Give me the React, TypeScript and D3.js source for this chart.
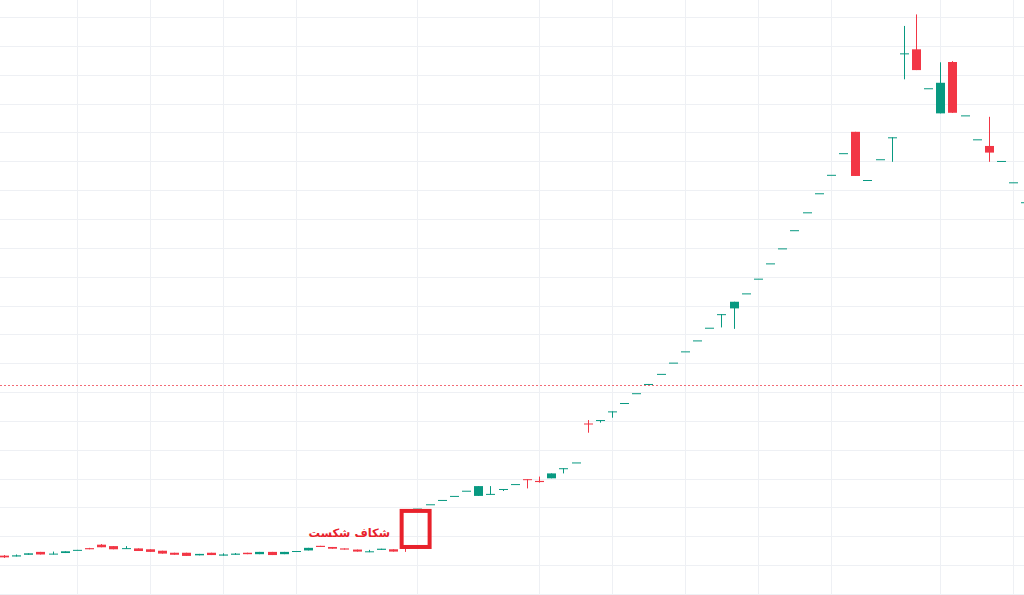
import * as React from "react"
import * as d3 from "d3"

// OHLC per bar (price units, grid step = 100)
const opens = [
  133, 130, 136, 146, 137, 142, 152, 159, 171, 166, 156, 158, 155, 150, 143, 143, 134, 143, 133, 136,
  143, 138, 146, 138, 149, 151, 167, 163, 158, 154, 145, 153, 155, 165, 296, 311, 326, 340, 358, 340,
  345, 362, 381, 398, 392, 401, 434, 456, 591, 602, 632, 662, 696, 727, 763, 802, 841, 879, 923, 969,
  990, 1042, 1093, 1146, 1198, 1261, 1323, 1389, 1453, 1528, 1602, 1435, 1507, 1582, 1873, 1888, 1753, 1666, 1844, 1659,
  1576, 1553, 1501, 1427, 1358,
]
const highs = [
  135, 137, 141, 146, 147, 148, 153, 160, 173, 166, 166, 158, 155, 150, 143, 143, 139, 143, 141, 142,
  143, 146, 146, 146, 149, 160, 167, 163, 158, 154, 153, 157, 155, 166, 296, 311, 326, 340, 358, 374,
  374, 364, 381, 398, 407, 418, 436, 456, 603, 603, 633, 662, 696, 728, 763, 802, 841, 879, 923, 970,
  1013, 1042, 1093, 1146, 1198, 1261, 1323, 1389, 1453, 1528, 1602, 1435, 1507, 1583, 1969, 2009, 1753, 1843, 1847, 1659,
  1576, 1654, 1501, 1427, 1358,
]
const lows = [
  125, 130, 136, 137, 137, 142, 152, 155, 162, 155, 156, 149, 146, 140, 136, 132, 134, 135, 133, 136,
  138, 138, 135, 138, 149, 151, 163, 157, 154, 147, 145, 153, 147, 146, 296, 311, 326, 340, 358, 340,
  345, 357, 381, 366, 386, 401, 418, 456, 559, 594, 611, 662, 696, 725, 763, 802, 841, 879, 923, 924,
  919, 1042, 1093, 1146, 1198, 1261, 1323, 1389, 1453, 1528, 1449, 1435, 1507, 1498, 1784, 1816, 1753, 1666, 1668, 1659,
  1576, 1498, 1501, 1427, 1358,
]
const closes = [
  127, 134, 141, 137, 140, 148, 153, 155, 162, 155, 159, 149, 146, 140, 136, 132, 139, 135, 137, 140,
  138, 146, 135, 146, 149, 160, 163, 157, 154, 147, 148, 157, 147, 156, 296, 311, 326, 340, 358, 374,
  347, 364, 381, 395, 388, 418, 436, 456, 588, 603, 633, 662, 696, 728, 763, 802, 841, 879, 923, 970,
  1013, 1042, 1093, 1146, 1198, 1261, 1323, 1389, 1453, 1528, 1449, 1435, 1507, 1583, 1874, 1816, 1753, 1772, 1668, 1659,
  1576, 1530, 1501, 1427, 1358,
]

// bars where the time grid draws a vertical line
const timeGridBars = [6, 12, 18, 24, 34, 44, 50, 56, 62, 68, 77, 83]
const lastPrice = 723

// breakaway gap annotation
const gapLabel = "شکاف شکست"
const gapFromBar = 32.7
const gapToBar = 35
const gapLow = 163
const gapHigh = 288

const UP = "#089981"
const DOWN = "#f23645"
const MARK = "#e8212b"

function render(svgRef: React.RefObject<SVGSVGElement>) {
  const width = 1024
  const height = 595

  const svg = d3.select(svgRef.current).attr("width", width).attr("height", height)
  svg.selectAll("*").remove()

  const x = d3.scaleLinear().domain([0, 83]).range([4, 1013.3])
  const y = d3.scaleLinear().domain([0, 2000]).range([594, 17])
  const bodyW = 9

  svg.append("rect").attr("width", width).attr("height", height).attr("fill", "#ffffff")

  const grid = svg.append("g").attr("class", "grid")
  grid
    .selectAll(".hline")
    .data(y.ticks(20))
    .join("line")
    .attr("class", "hline")
    .attr("x1", 0)
    .attr("x2", width)
    .attr("y1", (d) => Math.round(y(d)) + 0.5)
    .attr("y2", (d) => Math.round(y(d)) + 0.5)
    .attr("stroke", "#eef0f4")
  grid
    .selectAll(".vline")
    .data(timeGridBars)
    .join("line")
    .attr("class", "vline")
    .attr("x1", (d) => Math.round(x(d)) + 0.5)
    .attr("x2", (d) => Math.round(x(d)) + 0.5)
    .attr("y1", 0)
    .attr("y2", height)
    .attr("stroke", "#eef0f4")

  // last price line
  svg
    .append("line")
    .attr("x1", 0)
    .attr("x2", width)
    .attr("y1", Math.round(y(lastPrice)) + 0.5)
    .attr("y2", Math.round(y(lastPrice)) + 0.5)
    .attr("stroke", "#f26b76")
    .attr("stroke-dasharray", "2,2")
    .attr("shape-rendering", "crispEdges")

  const bars = d3.range(opens.length)
  const color = (i: number) => (closes[i] >= opens[i] ? UP : DOWN)

  const candles = svg.append("g").attr("class", "candles")
  candles
    .selectAll(".wick")
    .data(bars)
    .join("line")
    .attr("class", "wick")
    .attr("x1", (i) => Math.round(x(i)) + 0.5)
    .attr("x2", (i) => Math.round(x(i)) + 0.5)
    .attr("y1", (i) => y(highs[i]))
    .attr("y2", (i) => y(lows[i]))
    .attr("stroke", color)

  candles
    .selectAll(".body")
    .data(bars)
    .join("rect")
    .attr("class", "body")
    .attr("x", (i) => Math.round(x(i)) + 0.5 - bodyW / 2)
    .attr("y", (i) => y(Math.max(opens[i], closes[i])))
    .attr("width", bodyW)
    .attr("height", (i) => Math.max(1, Math.abs(y(opens[i]) - y(closes[i]))))
    .attr("fill", color)

  svg
    .append("rect")
    .attr("x", x(gapFromBar))
    .attr("y", y(gapHigh))
    .attr("width", x(gapToBar) - x(gapFromBar))
    .attr("height", y(gapLow) - y(gapHigh))
    .attr("fill", "none")
    .attr("stroke", MARK)
    .attr("stroke-width", 4)

  svg
    .append("text")
    .attr("x", x(31.75))
    .attr("y", y(198))
    .attr("text-anchor", "end")
    .attr("font-family", "DejaVu Sans")
    .attr("font-weight", "bold")
    .attr("font-size", 11.5)
    .attr("fill", MARK)
    .text(gapLabel)
}

export default function App(): React.JSX.Element {
  const svg = React.useRef<SVGSVGElement>(null)

  React.useEffect(() => {
    document.body.style.margin = "0"
    render(svg)
  }, [])

  return (
    <div style={{ width: 1024, height: 595 }}>
      <svg ref={svg} style={{ display: "block" }}></svg>
    </div>
  )
}
